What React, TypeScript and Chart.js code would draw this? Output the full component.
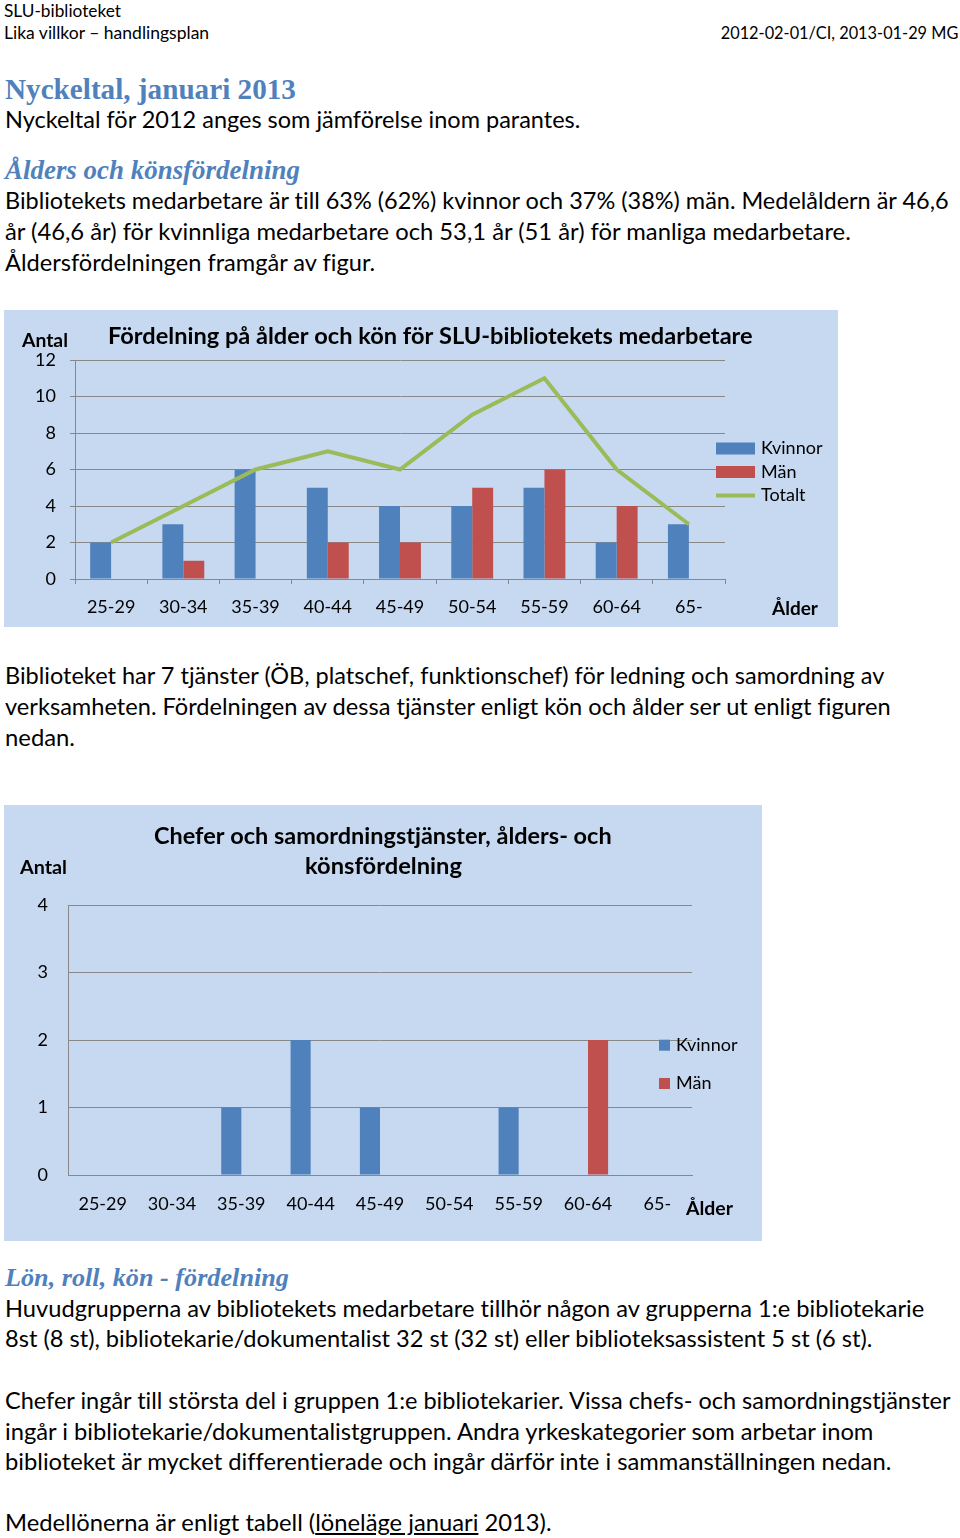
import React, { useEffect, useRef } from "react";
import { Chart, registerables } from "chart.js";

Chart.register(...registerables);

// ---------- data ----------
const ageGroups = ["25-29", "30-34", "35-39", "40-44", "45-49", "50-54", "55-59", "60-64", "65-"];
const staffWomen = [2, 3, 6, 5, 4, 4, 5, 2, 3];
const staffMen = [0, 1, 0, 2, 2, 5, 6, 4, 0];
const staffTotal = [2, 4, 6, 7, 6, 9, 11, 6, 3];
const leadWomen = [0, 0, 1, 2, 1, 0, 1, 0, 0];
const leadMen = [0, 0, 0, 0, 0, 0, 0, 2, 0];
const staffYTicks = [0, 2, 4, 6, 8, 10, 12];
const leadYTicks = [0, 1, 2, 3, 4];
const seriesLabels = ["Kvinnor", "Män", "Totalt"];

// ---------- styles ----------
const BLUE = "#4F81BD";
const RED = "#C0504D";
const GREEN = "#9BBB59";
const BG = "#C6D9F1";
const GRID = "#888888";
const BODY = "Lato";
const SERIF = "'Liberation Serif'";

let mctx: CanvasRenderingContext2D | null = null;
function getCtx() {
  if (!mctx) mctx = document.createElement("canvas").getContext("2d");
  return mctx as CanvasRenderingContext2D;
}

function fitFont(text: string, family: string, weight: string, style: string, width: number) {
  const ctx = getCtx();
  ctx.font = `${style} ${weight} 100px ${family}`;
  const m = ctx.measureText(text);
  const size = (100 * width) / m.width;
  const asc = ((m as any).fontBoundingBoxAscent ?? 95) / 100;
  const desc = ((m as any).fontBoundingBoxDescent ?? 22) / 100;
  return { size, asc, desc };
}

type TLProps = {
  text: string;
  x: number;
  r: number;
  base: number;
  family?: string;
  weight?: string;
  fstyle?: string;
  color?: string;
  children?: React.ReactNode;
};

function TextLine({ text, x, r, base, family = BODY, weight = "normal", fstyle = "normal", color = "#000", children }: TLProps) {
  const { size, asc, desc } = fitFont(text, family, weight, fstyle, r - x);
  const top = base - ((1 - (asc + desc)) / 2 + asc) * size;
  return (
    <div
      style={{
        position: "absolute",
        left: x,
        top,
        fontFamily: family,
        fontSize: size,
        fontWeight: weight as any,
        fontStyle: fstyle,
        lineHeight: `${size}px`,
        whiteSpace: "nowrap",
        fontVariantLigatures: "none",
        fontKerning: "normal",
        color,
      }}
    >
      {children ?? text}
    </div>
  );
}

type OvText = { text: string; x: number; r: number; base: number };
type OvLegend = { x: number; textX: number; bases: number[]; markW: number; markH: number; markOffset: number };

function overlayPlugin(ox: number, oy: number, texts: OvText[], legend: OvLegend) {
  return {
    id: "overlay",
    afterDraw(chart: any) {
      const ctx: CanvasRenderingContext2D = chart.ctx;
      ctx.save();
      ctx.fillStyle = "#000";
      ctx.textAlign = "left";
      ctx.textBaseline = "alphabetic";
      for (const t of texts) {
        ctx.font = `bold 100px ${BODY}`;
        const w = ctx.measureText(t.text).width;
        const size = (100 * (t.r - t.x)) / w;
        ctx.font = `bold ${size}px ${BODY}`;
        ctx.fillText(t.text, t.x - ox, t.base - oy);
      }
      const ds = chart.data.datasets;
      ds.forEach((d: any, i: number) => {
        const base = legend.bases[i] - oy;
        const mx = legend.x - ox;
        const cy = base - legend.markOffset;
        if (d.type === "line") {
          ctx.strokeStyle = d.borderColor;
          ctx.lineWidth = d.borderWidth;
          ctx.beginPath();
          ctx.moveTo(mx, cy);
          ctx.lineTo(mx + legend.markW, cy);
          ctx.stroke();
        } else {
          ctx.fillStyle = d.backgroundColor;
          ctx.fillRect(mx, cy - legend.markH / 2, legend.markW, legend.markH);
        }
        ctx.fillStyle = "#000";
        ctx.font = `18px ${BODY}`;
        ctx.fillText(d.label, legend.textX - ox, base);
      });
      ctx.restore();
    },
  };
}

function StaffChart() {
  const ref = useRef<HTMLCanvasElement>(null);
  useEffect(() => {
    const OX = 4, OY = 310;
    const chart = new Chart(ref.current as HTMLCanvasElement, {
      type: "bar",
      data: {
        labels: ageGroups,
        datasets: [
          { type: "bar", label: seriesLabels[0], data: staffWomen, backgroundColor: BLUE, order: 1, categoryPercentage: 0.58, barPercentage: 1 },
          { type: "bar", label: seriesLabels[1], data: staffMen, backgroundColor: RED, order: 1, categoryPercentage: 0.58, barPercentage: 1 },
          { type: "line", label: seriesLabels[2], data: staffTotal, borderColor: GREEN, backgroundColor: GREEN, borderWidth: 4, pointRadius: 0, tension: 0, fill: false, order: 0 },
        ] as any,
      },
      options: {
        responsive: false,
        animation: false,
        events: [],
        layout: { padding: { top: 50, right: 113, bottom: 0, left: 0 } },
        plugins: { legend: { display: false }, title: { display: false }, tooltip: { enabled: false } },
        scales: {
          x: {
            grid: { display: true, drawOnChartArea: false, drawTicks: true, tickLength: 5, color: GRID, offset: true },
            border: { display: true, color: GRID, width: 1 },
            ticks: { font: { family: BODY, size: 18 }, color: "#000", padding: 12, maxRotation: 0, autoSkip: false },
            afterFit: (s: any) => { s.height = 48; },
          },
          y: {
            min: 0,
            max: 12,
            grid: { color: GRID, tickLength: 5, drawTicks: true },
            border: { display: true, color: GRID, width: 1 },
            ticks: { font: { family: BODY, size: 18 }, color: "#000", padding: 14 },
            afterBuildTicks: (s: any) => { s.ticks = staffYTicks.map((v) => ({ value: v })); },
            afterFit: (s: any) => { s.width = 71; },
          },
        },
      } as any,
      plugins: [
        overlayPlugin(
          OX,
          OY,
          [
            { text: "Fördelning på ålder och kön för SLU-bibliotekets medarbetare", x: 108, r: 753, base: 344 },
            { text: "Antal", x: 22, r: 68, base: 346.5 },
            { text: "Ålder", x: 772, r: 818, base: 615 },
          ],
          { x: 716, textX: 761, bases: [454, 477.5, 501], markW: 39, markH: 12, markOffset: 5.5 }
        ),
      ],
    });
    return () => chart.destroy();
  }, []);
  return (
    <div style={{ position: "absolute", left: 4, top: 310, width: 834, height: 317, background: BG }}>
      <canvas ref={ref} width={834} height={317} style={{ display: "block" }} />
    </div>
  );
}

function LeadChart() {
  const ref = useRef<HTMLCanvasElement>(null);
  useEffect(() => {
    const OX = 4, OY = 805;
    const chart = new Chart(ref.current as HTMLCanvasElement, {
      type: "bar",
      data: {
        labels: ageGroups,
        datasets: [
          { label: seriesLabels[0], data: leadWomen, backgroundColor: BLUE, categoryPercentage: 0.58, barPercentage: 1 },
          { label: seriesLabels[1], data: leadMen, backgroundColor: RED, categoryPercentage: 0.58, barPercentage: 1 },
        ],
      },
      options: {
        responsive: false,
        animation: false,
        events: [],
        layout: { padding: { top: 100, right: 70, bottom: 0, left: 0 } },
        plugins: { legend: { display: false }, title: { display: false }, tooltip: { enabled: false } },
        scales: {
          x: {
            grid: { display: false, drawTicks: false },
            border: { display: true, color: GRID, width: 1 },
            ticks: { font: { family: BODY, size: 18 }, color: "#000", padding: 18, maxRotation: 0, autoSkip: false },
            afterFit: (s: any) => { s.height = 66; },
          },
          y: {
            min: 0,
            max: 4,
            grid: { color: GRID, drawTicks: false },
            border: { display: true, color: GRID, width: 1 },
            ticks: { font: { family: BODY, size: 18 }, color: "#000", padding: 20 },
            afterBuildTicks: (s: any) => { s.ticks = leadYTicks.map((v) => ({ value: v })); },
            afterFit: (s: any) => { s.width = 64; },
          },
        },
      } as any,
      plugins: [
        overlayPlugin(
          OX,
          OY,
          [
            { text: "Chefer och samordningstjänster, ålders- och", x: 154, r: 612, base: 844 },
            { text: "könsfördelning", x: 305, r: 462, base: 874 },
            { text: "Antal", x: 20, r: 67, base: 874 },
            { text: "Ålder", x: 686, r: 733, base: 1215 },
          ],
          { x: 659, textX: 676, bases: [1050.7, 1089], markW: 11, markH: 11, markOffset: 5.5 }
        ),
      ],
    });
    return () => chart.destroy();
  }, []);
  return (
    <div style={{ position: "absolute", left: 4, top: 805, width: 758, height: 436, background: BG }}>
      <canvas ref={ref} width={758} height={436} style={{ display: "block" }} />
    </div>
  );
}

export default function App() {
  const H = BLUE;
  return (
    <div style={{ position: "absolute", left: 0, top: 0, width: 960, height: 1538, background: "#fff", overflow: "hidden" }}>
      <TextLine text="SLU-biblioteket" x={4} r={121} base={17} />
      <TextLine text="Lika villkor – handlingsplan" x={4} r={210} base={39.8} />
      <TextLine text="2012-02-01/CI, 2013-01-29 MG" x={720.7} r={958.5} base={39.8} />

      <TextLine text="Nyckeltal, januari 2013" x={5} r={296} base={99} family={SERIF} weight="bold" color={H} />
      <TextLine text="Nyckeltal för 2012 anges som jämförelse inom parantes." x={5} r={581} base={129} />

      <TextLine text="Ålders och könsfördelning" x={5} r={300} base={179.5} family={SERIF} weight="bold" fstyle="italic" color={H} />
      <TextLine text="Bibliotekets medarbetare är till 63% (62%) kvinnor och 37% (38%) män. Medelåldern är 46,6" x={5} r={951} base={210.2} />
      <TextLine text="år (46,6 år) för kvinnliga medarbetare och 53,1 år (51 år) för manliga medarbetare." x={5} r={853} base={241} />
      <TextLine text="Åldersfördelningen framgår av figur." x={5} r={376} base={271.7} />

      <StaffChart />

      <TextLine text="Biblioteket har 7 tjänster (ÖB, platschef, funktionschef) för ledning och samordning av" x={5} r={887} base={685} />
      <TextLine text="verksamheten. Fördelningen av dessa tjänster enligt kön och ålder ser ut enligt figuren" x={5} r={893} base={715.7} />
      <TextLine text="nedan." x={5} r={75} base={746.4} />

      <LeadChart />

      <TextLine text="Lön, roll, kön - fördelning" x={5} r={289} base={1287} family={SERIF} weight="bold" fstyle="italic" color={H} />
      <TextLine text="Huvudgrupperna av bibliotekets medarbetare tillhör någon av grupperna 1:e bibliotekarie" x={5} r={927} base={1317.7} />
      <TextLine text="8st (8 st), bibliotekarie/dokumentalist 32 st (32 st) eller biblioteksassistent 5 st (6 st)." x={5} r={873} base={1348.4} />

      <TextLine text="Chefer ingår till största del i gruppen 1:e bibliotekarier. Vissa chefs- och samordningstjänster" x={5} r={953} base={1410} />
      <TextLine text="ingår i bibliotekarie/dokumentalistgruppen. Andra yrkeskategorier som arbetar inom" x={5} r={877} base={1440.7} />
      <TextLine text="biblioteket är mycket differentierade och ingår därför inte i sammanställningen nedan." x={5} r={893} base={1471.4} />

      <TextLine text="Medellönerna är enligt tabell (löneläge januari 2013)." x={5} r={552} base={1532.3}>
        Medellönerna är enligt tabell (<span style={{ textDecoration: "underline" }}>löneläge januari</span> 2013).
      </TextLine>
    </div>
  );
}
